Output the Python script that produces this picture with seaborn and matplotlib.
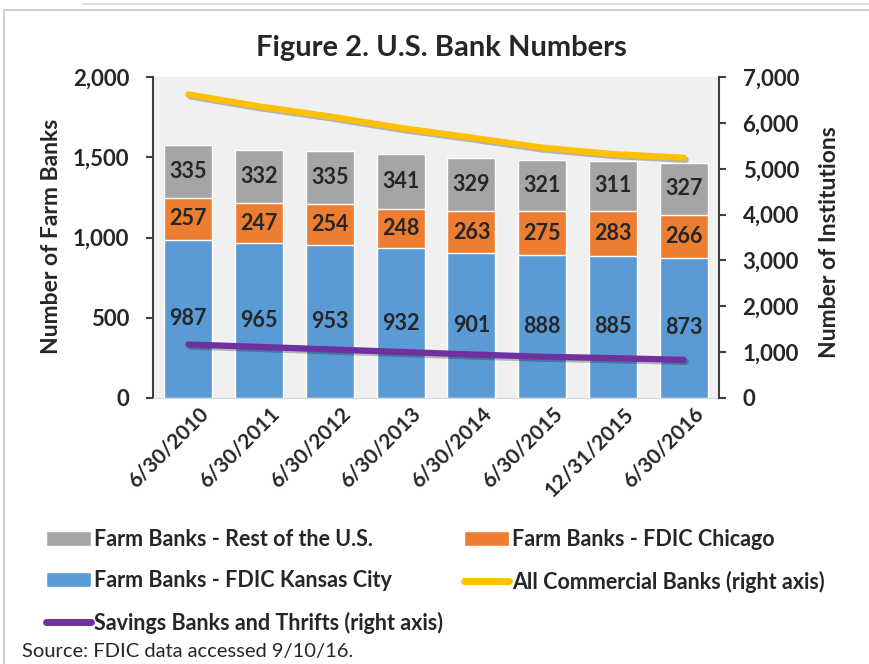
import matplotlib
matplotlib.use("Agg")
import matplotlib.pyplot as plt
import matplotlib.transforms as mtransforms
import matplotlib.patheffects as pe
from matplotlib.lines import Line2D
from matplotlib.patches import Patch
import seaborn as sns
import numpy as np
import pandas as pd

# data
dates = ["6/30/2010", "6/30/2011", "6/30/2012", "6/30/2013",
         "6/30/2014", "6/30/2015", "12/31/2015", "6/30/2016"]
kansas_city = [987, 965, 953, 932, 901, 888, 885, 873]
chicago = [257, 247, 254, 248, 263, 275, 283, 266]
rest_us = [335, 332, 335, 341, 329, 321, 311, 327]
commercial = [6620, 6360, 6140, 5890, 5680, 5460, 5320, 5240]
savings = [1167, 1115, 1060, 1005, 950, 900, 870, 833]

sns.set_style("white")
plt.rcParams["font.family"] = ["Lato", "DejaVu Sans"]

c_gray = "#A5A5A5"
c_orange = "#ED7D31"
c_blue = "#5B9BD5"
c_yellow = "#FFC000"
c_purple = "#7030A0"
c_text = "#262626"

df = pd.DataFrame({"date": dates, "kc": kansas_city, "chi": chicago, "rest": rest_us})
df["kc_chi"] = df["kc"] + df["chi"]
df["total"] = df["kc_chi"] + df["rest"]

fig = plt.figure(figsize=(8.69, 6.64), dpi=100)
ax = fig.add_axes([153 / 869, 1 - 398 / 664, 566 / 869, 321 / 664])
ax.set_facecolor("#F0F0F0")

bw = 0.68
sns.barplot(data=df, x="date", y="total", color=c_gray, width=bw, saturation=1, ax=ax, zorder=2)
sns.barplot(data=df, x="date", y="kc_chi", color=c_orange, width=bw, saturation=1, ax=ax, zorder=2)
sns.barplot(data=df, x="date", y="kc", color=c_blue, width=bw, saturation=1, ax=ax, zorder=2)

# value labels in the middle of each segment
for i in range(len(dates)):
    for val, bottom in [(kansas_city[i], 0),
                        (chicago[i], kansas_city[i]),
                        (rest_us[i], kansas_city[i] + chicago[i])]:
        ax.text(i, bottom + val / 2, str(val), ha="center", va="center",
                fontsize=15.5, fontweight="bold", color=c_text, zorder=4)

ax.set_ylim(0, 2000)
ax.set_xlim(-0.5, 7.5)
ax.set_yticks([0, 500, 1000, 1500, 2000])
ax.set_yticklabels(["0", "500", "1,000", "1,500", "2,000"])
ax.set_xlabel("")
ax.set_ylabel("")

ax2 = ax.twinx()
x = np.arange(len(dates))
shadow = [pe.SimpleLineShadow(offset=(1.5, -1.5), alpha=0.25), pe.Normal()]
sns.lineplot(x=x, y=commercial, color=c_yellow, linewidth=4.5, ax=ax2,
             solid_capstyle="round", path_effects=shadow)
sns.lineplot(x=x, y=savings, color=c_purple, linewidth=4.5, ax=ax2,
             solid_capstyle="round", path_effects=shadow)
ax2.set_ylim(0, 7000)
ax2.set_yticks(range(0, 7001, 1000))
ax2.set_yticklabels([f"{v:,}" for v in range(0, 7001, 1000)])
ax2.set_xlim(-0.5, 7.5)

for a in (ax, ax2):
    a.spines["top"].set_visible(False)
    a.spines["left"].set_color("#404040")
    a.spines["right"].set_color("#404040")
    a.spines["left"].set_linewidth(1.5)
    a.spines["right"].set_linewidth(1.5)
    a.spines["bottom"].set_color("#D9D9D9")
ax.spines["right"].set_visible(False)
ax2.spines["left"].set_visible(False)
ax2.spines["bottom"].set_visible(False)

ax.tick_params(axis="y", direction="out", length=5, width=1.5, color="#404040",
               labelsize=16, labelcolor=c_text, pad=12, left=True)
ax2.tick_params(axis="y", direction="out", length=5, width=1.5, color="#404040",
                labelsize=16, labelcolor=c_text, pad=12, right=True)
for lab in ax.get_yticklabels() + ax2.get_yticklabels():
    lab.set_fontweight("bold")

ax.tick_params(axis="x", length=0, labelsize=15, labelcolor=c_text, pad=4)
offset = mtransforms.ScaledTranslation(10 / 100, 0, fig.dpi_scale_trans)
for lab in ax.get_xticklabels():
    lab.set_rotation(45)
    lab.set_ha("right")
    lab.set_rotation_mode("anchor")
    lab.set_fontweight("bold")
    lab.set_transform(lab.get_transform() + offset)

fig.text(441 / 869, 1 - 48 / 664, "Figure 2. U.S. Bank Numbers", ha="center", va="center",
         fontsize=21, fontweight="bold", color=c_text)
fig.text(52 / 869, 1 - 236 / 664, "Number of Farm Banks", rotation=90, ha="center", va="center",
         fontsize=16.5, fontweight="bold", color=c_text)
fig.text(829 / 869, 1 - 242 / 664, "Number of Institutions", rotation=90, ha="center", va="center",
         fontsize=16.5, fontweight="bold", color=c_text)

# legends
h_gray = Patch(facecolor=c_gray, label="Farm Banks - Rest of the U.S.")
h_blue = Patch(facecolor=c_blue, label="Farm Banks - FDIC Kansas City")
h_purple = Line2D([], [], color=c_purple, linewidth=5, label="Savings Banks and Thrifts (right axis)")
h_orange = Patch(facecolor=c_orange, label="Farm Banks - FDIC Chicago")
h_yellow = Line2D([], [], color=c_yellow, linewidth=5, label="All Commercial Banks (right axis)")

leg_kw = dict(frameon=False, loc="upper left", handlelength=2.1, handletextpad=0.12,
              labelspacing=0.95, borderaxespad=0, borderpad=0,
              prop={"size": 15.5, "weight": "bold"})
leg1 = fig.legend(handles=[h_gray, h_blue, h_purple], bbox_to_anchor=(46 / 869, 1 - 529 / 664), **leg_kw)
leg2 = fig.legend(handles=[h_orange, h_yellow], bbox_to_anchor=(464 / 869, 1 - 529 / 664), **leg_kw)
for leg in (leg1, leg2):
    for t in leg.get_texts():
        t.set_color(c_text)

fig.text(22 / 869, 1 - 652 / 664, "Source: FDIC data accessed 9/10/16.", ha="left", va="center",
         fontsize=14.5, color=c_text)

# screenshot frame lines
fig.add_artist(Line2D([4 / 869, 4 / 869], [0, 1 - 10 / 664], color="#D0D0D0", linewidth=1.5,
                      transform=fig.transFigure))
fig.add_artist(Line2D([4 / 869, 1], [1 - 10 / 664, 1 - 10 / 664], color="#D0D0D0", linewidth=1.5,
                      transform=fig.transFigure))
fig.add_artist(Line2D([83 / 869, 1], [1 - 4 / 664, 1 - 4 / 664], color="#D8D8D8", linewidth=1.2,
                      transform=fig.transFigure))

fig.savefig("out.png", dpi=100)
